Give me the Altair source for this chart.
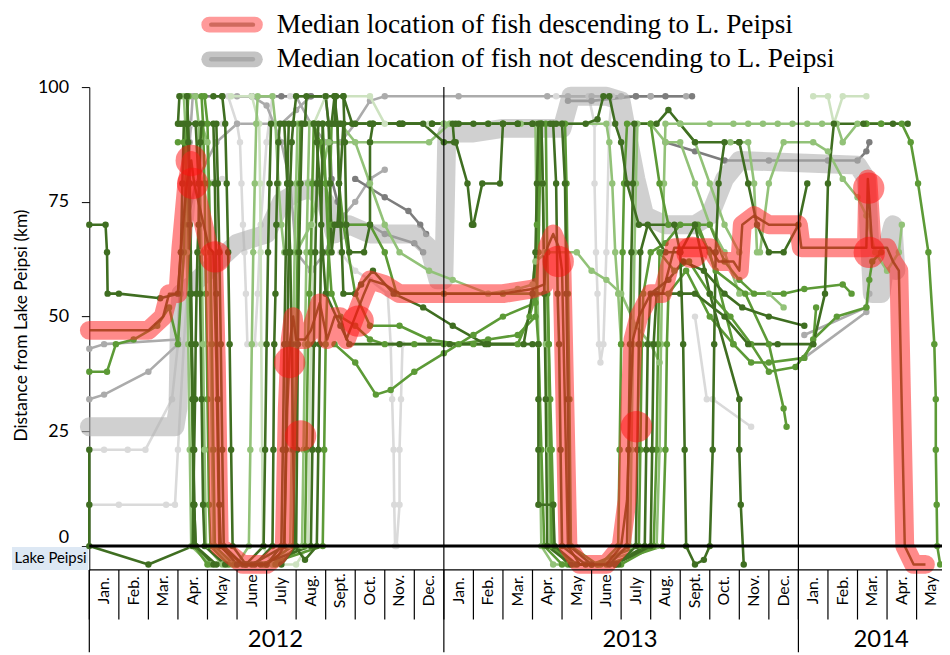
import altair as alt
import pandas as pd

# ---------------- axis / label data ----------------
month_names = ["Jan.", "Feb.", "Mar.", "Apr.", "May", "June", "July", "Aug.",
               "Sept.", "Oct.", "Nov.", "Dec."]
year_names = ["2012", "2013", "2014"]
year_label_pos = [6.3, 18.3, 26.8]      # months since 1 Jan 2012
year_bounds = [12, 24]
x_max = 28.86
y_min, y_max = -5.2, 100
y_ticks = [0, 25, 50, 75, 100]

legend_labels = ["Median location of fish descending to L. Peipsi",
                 "Median location of fish not descending to L. Peipsi"]

# ---------------- medians (month, km) ----------------
red_median = [[0, 47], [2.0, 47], [2.5, 50], [2.7, 55], [3.0, 55], [3.1, 65], [3.3, 79], [3.45, 84],
              [3.55, 79], [3.8, 72], [4.05, 65], [4.2, 64], [4.3, 40], [4.4, 0], [4.8, -2], [5.2, -4],
              [6.0, -4], [6.4, -2], [6.6, 0], [6.7, 30], [6.8, 45], [6.9, 50], [7.0, 45], [7.3, 45],
              [7.5, 47], [7.8, 53], [8.05, 45], [8.3, 50], [8.5, 50], [8.7, 45], [9.0, 50], [9.3, 55],
              [9.5, 58], [10.0, 57], [10.5, 55], [11.5, 55], [12.0, 55], [13.0, 55], [14.0, 55],
              [15.0, 56], [15.4, 57], [15.5, 65], [15.7, 68], [15.9, 65], [16.0, 60], [16.1, 30],
              [16.2, 0], [16.6, -4], [17.5, -4], [18.0, 0], [18.2, 10], [18.3, 30], [18.4, 45],
              [18.6, 50], [19.0, 55], [19.4, 55], [19.6, 60], [19.8, 65], [20.4, 65], [21.0, 65],
              [21.3, 62], [21.8, 62], [22.0, 60], [22.1, 70], [22.5, 72], [23.0, 70], [24.0, 70],
              [24.1, 65], [25.0, 65], [26.3, 65], [26.35, 80], [26.5, 65], [27.0, 65], [27.2, 62],
              [27.4, 60], [27.5, 30], [27.6, 0], [27.9, -4], [28.3, -4]]
red_blob_m = [3.5, 3.45, 4.26, 6.78, 7.15, 9.1, 15.87, 18.52, 20.4, 26.4, 26.38]
red_blob_km = [79, 84, 63, 40, 24, 49, 62, 26, 64, 64, 78]

gray_median = [[0, 26], [2.9, 26], [3.0, 30], [3.05, 50], [3.1, 55], [3.5, 57], [4.0, 60], [4.5, 63],
               [5.0, 66], [5.5, 67], [6.0, 68], [6.5, 75], [7.0, 77], [7.5, 78], [8.0, 75], [8.3, 68],
               [8.8, 70], [9.5, 68], [11.0, 68], [11.5, 65], [11.8, 58], [12.0, 58], [12.1, 90],
               [13.0, 90], [14.0, 91], [16.0, 91], [16.3, 98], [17.5, 98], [18.0, 97], [18.2, 90],
               [18.5, 80], [18.8, 72], [19.5, 70], [20.5, 70], [21.0, 72], [21.5, 80], [22.0, 84],
               [26.0, 83], [26.3, 80], [26.5, 55], [26.8, 55], [27.0, 65], [27.2, 70], [27.3, 60]]

# ---------------- individual fish tracks (month, km) ----------------
g01 = [[0, 21], [0, 9], [0, 0], [2.0, -4], [3.5, 0], [3.52, 9], [3.55, 21], [3.58, 32], [3.6, 44], [3.63, 55],
       [3.66, 64], [3.7, 70], [3.73, 79], [3.76, 88], [3.8, 92], [4.3, 92], [4.35, 79], [4.4, 64], [4.45, 44],
       [4.5, 21], [4.55, 0], [5.2, -4], [6.5, -4], [7.0, 0], [7.03, 21], [7.06, 44], [7.1, 64], [7.15, 79],
       [7.2, 92], [8.5, 92], [9.5, 92], [10.5, 92], [11.3, 92], [12.0, 88], [12.4, 88], [12.8, 79], [12.95, 70],
       [13.0, 70], [13.3, 79], [13.9, 79], [14.0, 92], [14.5, 92], [15.3, 92], [15.35, 79], [15.4, 55],
       [15.45, 32], [15.5, 0], [16.3, -4], [17.6, -4], [18.2, 0], [18.25, 21], [18.3, 44], [18.35, 64],
       [18.4, 79], [18.45, 92], [19.2, 92], [19.6, 95], [20.5, 88], [22.0, 88]]
g02 = [[3.1, 92], [3.3, 92], [3.35, 88], [3.38, 79], [3.4, 70], [3.43, 55], [3.46, 44], [3.5, 32], [3.52, 21],
       [3.55, 9], [3.6, 0], [4.2, -4], [5.6, -4], [6.2, 0], [6.23, 21], [6.26, 44], [6.3, 55], [6.33, 70],
       [6.36, 79], [6.4, 88], [6.45, 92], [6.9, 92], [7.0, 98], [8.0, 98], [8.1, 92], [8.15, 79], [8.2, 64],
       [8.3, 70], [8.4, 70], [8.6, 92], [9.0, 92], [9.6, 92], [10.6, 92], [11.6, 92], [12.4, 92], [13.5, 92],
       [14.5, 92], [15.6, 92], [16.0, 92], [16.1, 79], [16.15, 55], [16.2, 32], [16.25, 0], [17.0, -4],
       [17.8, -4], [19.0, 0], [19.05, 21], [19.1, 44], [19.2, 55], [20.0, 55], [20.5, 55], [21.5, 50],
       [22.3, 44], [23.3, 44], [24.5, 44], [24.9, 55], [25.0, 79], [25.2, 92], [26.2, 92], [27.2, 92], [27.7, 92]]
g03 = [[4.2, 98], [4.5, 98], [4.6, 92], [4.65, 79], [4.7, 64], [4.75, 44], [4.8, 21], [4.85, 0], [5.3, -4],
       [6.0, -4], [6.5, 0], [6.55, 21], [6.6, 44], [6.65, 64], [6.7, 79], [6.75, 92], [7.3, 92], [7.35, 98],
       [8.3, 98], [8.4, 92], [8.45, 79], [8.5, 70], [8.55, 64], [8.6, 55], [9.0, 55], [9.2, 57], [9.6, 60],
       [10.3, 55], [11.3, 52], [12.3, 48], [13.4, 44], [14.7, 44], [15.0, 55], [15.1, 64], [15.15, 79],
       [15.2, 92], [15.7, 92], [15.8, 79], [15.85, 55], [15.9, 44], [15.95, 21], [16.0, 0], [16.8, -4],
       [17.9, -4], [18.5, 0], [18.55, 21], [18.6, 44], [18.65, 64], [18.9, 70], [19.5, 64], [20.0, 64],
       [20.5, 70], [21.0, 55], [22.0, 32], [22.0, 21], [22.05, 9], [22.15, -4]]
g04 = [[0, 70], [0.55, 70], [0.6, 64], [0.62, 55], [1.0, 55], [2.4, 54], [3.0, 55], [3.1, 64], [3.15, 79],
       [3.2, 92], [3.6, 92], [3.7, 79], [3.75, 55], [3.8, 32], [3.85, 9], [3.9, 0], [4.6, -4], [5.8, -4],
       [7.5, 0], [7.55, 21], [7.6, 44], [7.65, 64], [7.7, 79], [7.75, 92], [8.2, 92], [8.3, 98], [8.6, 98],
       [8.65, 88], [8.7, 70], [8.8, 64], [9.3, 64], [9.5, 70], [9.5, 88], [9.6, 92], [10.6, 92], [11.6, 92],
       [12.5, 92], [13.0, 92], [14.0, 92], [15.0, 92], [15.8, 92]]
g05 = [[0, 38], [0.6, 38], [0.9, 44], [1.5, 45], [2.3, 48], [2.7, 52], [3.0, 44], [3.2, 64], [3.25, 79],
       [3.3, 92], [3.35, 98], [3.8, 98], [3.85, 92], [3.9, 79], [3.95, 55], [4.0, 32], [4.05, 9], [4.1, 0],
       [4.7, -4], [5.9, -4], [6.9, 0], [6.95, 21], [7.0, 44], [7.05, 64], [7.1, 79], [7.15, 92], [7.6, 92],
       [7.8, 88], [8.0, 79], [8.2, 70], [8.6, 70], [9.0, 55], [9.5, 48], [10.5, 48], [11.5, 45], [12.5, 44],
       [13.5, 45], [14.5, 46], [15.1, 50], [15.2, 64], [15.25, 79], [15.3, 92], [15.45, 92], [15.5, 64],
       [15.55, 44], [15.6, 21], [15.65, 0], [16.4, -4], [17.3, -4], [17.9, 0], [17.95, 21], [18.0, 44],
       [18.05, 64], [18.1, 79], [18.2, 92], [19.0, 92], [19.3, 79], [19.6, 70], [20.6, 70], [21.2, 60],
       [22.2, 55], [23.0, 44], [23.5, 30], [23.6, 26]]
g06 = [[3.9, 98], [4.0, 92], [4.05, 79], [4.1, 64], [4.15, 44], [4.2, 21], [4.25, 0], [4.9, -4], [6.3, -4],
       [7.3, 0], [7.35, 21], [7.4, 44], [7.45, 55], [7.5, 64], [7.55, 79], [7.6, 92], [7.9, 92], [8.0, 79],
       [8.1, 64], [8.2, 55], [8.5, 50], [9.0, 48], [9.5, 45], [10.0, 44], [11.0, 44], [12.0, 44], [13.0, 44],
       [14.5, 44], [14.9, 50], [15.1, 55], [15.15, 70], [15.2, 79], [15.25, 92], [16.1, 92], [16.15, 79],
       [16.2, 55], [16.25, 32], [16.3, 0], [17.2, -4], [18.0, -4], [19.1, 0], [19.2, 21], [19.25, 44],
       [19.3, 64], [19.8, 60], [20.3, 62], [21.0, 55], [21.7, 50], [22.4, 44], [23.0, 38], [23.9, 39],
       [24.5, 44], [24.6, 52]]
g07 = [[3.0, 88], [3.2, 88], [3.3, 79], [3.35, 70], [3.4, 55], [3.45, 44], [3.5, 21], [3.55, 0], [4.0, -4],
       [6.0, -4], [7.9, 0], [7.95, 21], [8.0, 44], [8.05, 55], [8.1, 64], [8.15, 79], [8.2, 92], [8.4, 92],
       [8.45, 79], [8.6, 70], [9.5, 70], [10.0, 64], [10.4, 55], [12.0, 55], [14.0, 55], [15.5, 55],
       [15.55, 44], [15.6, 32], [15.65, 21], [15.7, 9], [15.72, 0], [16.2, -4], [17.0, -4], [18.6, 0],
       [18.65, 21], [18.7, 44], [18.75, 55], [19.0, 64], [19.5, 66], [20.0, 70], [21.0, 70], [21.5, 62],
       [22.0, 58], [22.5, 55], [23.5, 55], [24.2, 56], [25.5, 57], [25.8, 55]]
g08 = [[26.3, 92], [26.8, 92], [27.5, 92], [27.8, 88], [28.05, 79], [28.4, 64], [28.6, 44], [28.65, 32],
       [28.65, 21], [28.68, 9], [28.7, 0], [28.8, -4]]
g09 = [[3.1, 98], [3.2, 98], [3.25, 92], [3.3, 79], [3.3, 64], [3.35, 44], [3.4, 21], [3.45, 0], [4.1, -4],
       [5.0, -4], [5.4, 0], [5.45, 21], [5.5, 44], [5.55, 64], [5.6, 79], [5.65, 92], [5.7, 98], [6.2, 98],
       [6.3, 92], [6.4, 79], [6.5, 70], [6.6, 64], [7.0, 64], [7.5, 70], [8.1, 88], [9.5, 88], [11.5, 88],
       [12.2, 92], [14.0, 92], [16.0, 92], [17.5, 92], [17.6, 88], [17.7, 79], [17.8, 64], [17.9, 55], [18.0, 44]]
g10 = [[3.4, 98], [3.6, 98], [3.7, 92], [3.75, 79], [3.8, 64], [3.85, 44], [3.9, 21], [3.95, 0], [4.5, -4],
       [6.2, -4], [6.8, 0], [6.85, 21], [6.9, 44], [6.95, 64], [7.0, 79], [7.05, 92], [8.5, 92], [9.0, 88],
       [9.5, 79], [10.0, 70], [10.5, 64], [11.5, 60], [12.3, 58], [13.5, 55], [14.5, 56], [15.0, 57],
       [15.1, 62], [15.5, 64], [16.5, 64], [17.0, 60], [17.5, 58], [18.0, 55], [18.5, 48], [19.0, 44], [19.3, 40]]
g11 = [[20.0, 92], [21.0, 92], [21.8, 92], [22.3, 92], [22.8, 92], [23.3, 92], [23.8, 92], [24.3, 92],
       [24.8, 92], [25.3, 92], [25.5, 88], [26.0, 92], [26.3, 92], [26.8, 92]]
g12 = [[21.7, 88], [22.0, 88], [22.3, 88], [22.5, 79], [22.6, 64], [22.7, 64], [23.0, 79], [23.5, 88],
       [24.5, 88], [25.0, 86], [25.5, 80], [26.0, 76], [26.3, 72], [26.6, 64], [27.0, 60], [27.4, 64], [27.5, 70]]
g13 = [[24.5, 98], [25.0, 98], [25.2, 92], [25.5, 98], [26.3, 98]]
g14 = [[4.8, 98], [5.5, 98], [5.75, 92], [5.78, 79], [5.8, 64], [5.82, 44], [5.85, 21], [5.88, 0], [6.2, -4],
       [7.0, -4], [7.4, 0], [7.45, 21], [7.5, 44], [7.55, 70], [7.6, 92], [8.0, 98], [9.5, 98], [10.0, 92],
       [11.5, 92], [12.2, 92]]
g15 = [[12.0, 92], [13.5, 92], [15.3, 92], [15.35, 79], [15.4, 64], [15.45, 44], [15.5, 32], [15.55, 21],
       [15.6, 0], [16.3, -4], [17.2, -4], [18.3, 0], [18.35, 21], [18.4, 44], [18.45, 64], [18.5, 79],
       [18.55, 92], [19.0, 92], [19.5, 88], [20.0, 88], [20.5, 79], [21.0, 70], [21.5, 64], [22.0, 55],
       [23.0, 55], [23.5, 52]]
g16 = [[15.0, 92], [16.8, 92], [17.2, 93], [17.4, 98], [17.6, 98], [17.8, 92], [18.0, 88], [18.2, 79],
       [18.6, 70], [19.8, 70], [20.0, 64], [20.1, 44], [20.15, 21], [20.2, 0], [20.5, -4], [20.8, -3],
       [21.0, 0], [21.1, 21], [21.15, 44], [21.2, 64], [21.3, 79], [21.5, 88], [22.0, 88], [22.3, 79],
       [22.6, 70], [23.0, 64], [23.5, 64], [24.0, 70], [24.3, 79]]
g17 = [[8.3, 44], [9.0, 40], [9.7, 33], [10.2, 34], [11.0, 38], [12.0, 42], [13.0, 46], [14.0, 50],
       [15.1, 53], [15.2, 44], [15.3, 21], [15.4, 0], [16.0, -4], [17.5, -4], [19.4, 0], [19.5, 21],
       [19.55, 44], [19.6, 55], [20.2, 60], [21.0, 50], [21.8, 44]]
g18 = [[20.5, 70], [21.0, 64], [21.8, 44], [22.4, 40], [23.0, 40], [24.2, 41], [24.5, 45], [25.3, 50],
       [26.3, 52], [26.4, 58], [26.5, 62], [26.8, 64]]
g19 = [[3.0, 92], [3.05, 98], [3.3, 98], [3.35, 92], [3.4, 79], [3.45, 55], [3.5, 32], [3.55, 9], [3.6, 0],
       [4.3, -4], [5.3, -4], [5.9, 0], [5.95, 21], [6.0, 44], [6.05, 64], [6.1, 79], [6.15, 92], [6.6, 92],
       [6.7, 79], [6.8, 64], [6.85, 44], [6.9, 21], [6.95, 0], [7.3, -3], [7.7, 0], [7.75, 21], [7.8, 44],
       [7.85, 70], [7.9, 92], [8.3, 92], [8.35, 98], [8.6, 98], [8.9, 92], [10.5, 92], [12.3, 92], [12.35, 88]]
g20 = [[3.6, 92], [4.2, 92], [4.25, 79], [4.3, 55], [4.35, 32], [4.4, 9], [4.45, 0], [5.0, -4], [5.5, -4],
       [6.6, 0], [6.65, 21], [6.7, 44], [6.75, 64], [6.8, 79], [6.85, 88], [6.9, 92], [7.6, 92], [7.7, 88],
       [7.8, 79], [7.9, 64], [8.0, 55], [8.5, 48], [8.8, 44], [10.5, 44], [12.2, 44], [13.5, 44], [15.0, 44],
       [15.2, 44], [15.2, 32], [15.2, 21], [15.2, 9], [15.7, 9], [15.75, 0], [16.5, -4], [17.8, -4],
       [18.8, 0], [18.85, 21], [18.9, 44], [19.0, 55], [19.6, 58], [20.1, 62], [20.8, 60], [21.5, 55],
       [22.1, 52], [23.0, 50], [24.2, 48]]
g21 = [[3.2, 92], [3.8, 92], [4.0, 88], [4.05, 64], [4.1, 44], [4.15, 21], [4.2, 0], [4.8, -4], [6.0, -4],
       [7.2, 0], [7.25, 21], [7.3, 44], [7.35, 64], [7.4, 79], [7.45, 92], [9.5, 92], [12.0, 92], [14.6, 92],
       [15.1, 92], [15.15, 64], [15.2, 44], [15.25, 21], [15.3, 0], [15.7, -4], [17.0, -4], [19.2, 0],
       [19.3, 21], [19.35, 44], [19.4, 64], [19.45, 79], [19.5, 92], [20.0, 92], [20.5, 88], [21.0, 79],
       [21.5, 70], [22.0, 64]]

gr01 = [[3.6, 98], [4.5, 98], [5.5, 98], [6.5, 98], [7.5, 98], [8.0, 98], [8.1, 92], [8.15, 88], [8.2, 80],
        [8.4, 75], [8.5, 70], [9.5, 70], [10.0, 68], [11.0, 66], [11.3, 64]]
gr02 = [[0, 32], [0.5, 33], [2.0, 38], [3.0, 44], [3.05, 55], [3.1, 64], [3.2, 70], [3.3, 79], [3.4, 88],
        [3.5, 98], [5.0, 98], [7.0, 98], [7.5, 92], [8.0, 88], [8.5, 88], [9.0, 92], [9.5, 97], [10.0, 98],
        [12.5, 98], [15.5, 98], [18.5, 98], [19.0, 98]]
gr03 = [[0, 21], [0.5, 21], [1.3, 21], [1.9, 21], [2.8, 32], [3.0, 44], [3.1, 55], [3.2, 70], [3.3, 88],
        [3.5, 92], [4.5, 92]]
gr04 = [[0, 9], [1.0, 9], [2.6, 9], [2.9, 9], [3.0, 21], [3.2, 44], [3.4, 64], [3.6, 79], [4.5, 80]]
gr05 = [[8.5, 64], [9.0, 60], [9.5, 58], [10.1, 55], [10.2, 44], [10.25, 32], [10.3, 21], [10.32, 9],
        [10.35, 0], [10.4, 0], [10.5, 9], [10.5, 21], [10.55, 32], [10.6, 44]]
gr06 = [[0, 43], [0.5, 44], [3.0, 45], [3.1, 55], [3.3, 70], [3.6, 79], [4.3, 88], [5.0, 92], [6.5, 92],
        [7.0, 95], [7.5, 98], [8.0, 98]]
gr07 = [[16.2, 98], [17.0, 98], [18.0, 98], [19.0, 98], [20.2, 98]]
gr08 = [[16.2, 97], [17.0, 97], [18.5, 98], [19.5, 98], [20.4, 98]]
gr09 = [[19.5, 88], [20.5, 86], [21.5, 84], [23.0, 84], [25.0, 84], [26.0, 84], [26.3, 86], [26.4, 88]]
gr10 = [[20.5, 50], [20.9, 32], [21.1, 32], [22.4, 26]]
gr11 = [[24.2, 46], [26.3, 52], [26.4, 55]]
gr12 = [[24.2, 41], [26.3, 51]]
gr13 = [[15.8, 98], [16.9, 98], [17.1, 92], [17.1, 79], [17.15, 64], [17.2, 55], [17.25, 44], [17.3, 40],
        [17.4, 44], [17.5, 64], [17.6, 92], [17.7, 98]]
gr14 = [[4.5, 98], [4.7, 98], [5.0, 92], [5.1, 88], [5.15, 79], [5.2, 70], [5.25, 64], [5.3, 55], [5.35, 44],
        [5.6, 44], [5.7, 55], [5.8, 70], [6.0, 88], [6.2, 98], [6.8, 98]]
gr15 = [[5.5, 98], [6.0, 96], [6.5, 88], [6.8, 79], [7.0, 64], [7.5, 60], [8.0, 64], [8.3, 70], [8.6, 72],
        [9.0, 75], [9.5, 80], [10.0, 82]]
gr16 = [[9.0, 80], [10.0, 76], [10.8, 73], [11.2, 70], [11.4, 68]]

track_groups = [
    ("gr03", "LGR", gr03), ("gr04", "LGR", gr04), ("gr05", "LGR", gr05), ("gr13", "LGR", gr13),
    ("gr14", "LGR", gr14), ("gr10", "LGR", gr10),
    ("gr02", "MGR", gr02), ("gr06", "MGR", gr06), ("gr07", "MGR", gr07), ("gr11", "MGR", gr11),
    ("gr12", "MGR", gr12), ("gr15", "MGR", gr15),
    ("gr01", "DGR", gr01), ("gr08", "DGR", gr08), ("gr09", "DGR", gr09), ("gr16", "DGR", gr16),
    ("g13", "VLG", g13), ("g14", "VLG", g14),
    ("g09", "LG", g09), ("g10", "LG", g10), ("g11", "LG", g11), ("g12", "LG", g12), ("g15", "LG", g15),
    ("g21", "LG", g21),
    ("g05", "MG", g05), ("g06", "MG", g06), ("g07", "MG", g07), ("g08", "MG", g08), ("g17", "MG", g17),
    ("g18", "MG", g18),
    ("g01", "DG", g01), ("g02", "DG", g02), ("g03", "DG", g03), ("g04", "DG", g04), ("g16", "DG", g16),
    ("g19", "DG", g19), ("g20", "DG", g20),
]
grp_domain = ["LGR", "MGR", "DGR", "VLG", "LG", "MG", "DG"]
grp_colors = ["#dadada", "#ababab", "#7d7d7d", "#cde2c0", "#92c278", "#5c9a36", "#3f6e21"]

# ---------------- build tables ----------------
rows = []
for name, grp, pts in track_groups:
    for i, (m, km) in enumerate(pts):
        rows.append({"track": name, "grp": grp, "m": m, "km": km, "i": i})
tracks_df = pd.DataFrame(rows)
gray_df = tracks_df[tracks_df.grp.isin(["LGR", "MGR", "DGR"])]
green_df = tracks_df[~tracks_df.grp.isin(["LGR", "MGR", "DGR"])]

red_df = pd.DataFrame([{"m": m, "km": k, "i": i} for i, (m, k) in enumerate(red_median)])
graymed_df = pd.DataFrame([{"m": m, "km": k, "i": i} for i, (m, k) in enumerate(gray_median)])
blob_df = pd.DataFrame({"m": red_blob_m, "km": red_blob_km})

xs = alt.Scale(domain=[0, x_max], nice=False, zero=False)
ys = alt.Scale(domain=[y_min, y_max], nice=False, zero=False)
yax = alt.Axis(
    values=y_ticks, title="Distance from Lake Peipsi (km)", grid=False,
    domainColor="black", tickColor="black", tickSize=8, labelPadding=13,
    labelFontSize=18, labelFont="Lato", labelColor="black",
    labelBaseline={"condition": {"test": "datum.value === 0", "value": "bottom"}, "value": "middle"},
    titleFont="Lato", titleFontSize=17.5, titleFontWeight="normal", titleColor="black",
    titleX=-68, titleY=240, titleBaseline="middle", titleAlign="center", titleAngle=270)
X = alt.X("m:Q", scale=xs, axis=None)
Y = alt.Y("km:Q", scale=ys, axis=yax)
color = alt.Color("grp:N", scale=alt.Scale(domain=grp_domain, range=grp_colors), legend=None)

def track_layers(df):
    base = alt.Chart(df)
    lines = base.mark_line(strokeWidth=2.6, strokeJoin="round").encode(
        x=X, y=Y, color=color, detail="track:N", order="i:Q")
    pts = base.mark_circle(size=42, opacity=1).encode(x=X, y=Y, color=color)
    return [lines, pts]

gray_layers = track_layers(gray_df)
green_layers = track_layers(green_df)

gray_med = alt.Chart(graymed_df).mark_line(
    strokeWidth=19, color="#b0b0b0", opacity=0.6, strokeCap="round", strokeJoin="round"
).encode(x=X, y=Y, order="i:Q")

red_thick = alt.Chart(red_df).mark_line(
    strokeWidth=19, color="#ff2a2a", opacity=0.55, strokeCap="round", strokeJoin="round"
).encode(x=X, y=Y, order="i:Q")
red_thin = alt.Chart(red_df).mark_line(
    strokeWidth=2.5, color="#a8401c", opacity=0.9, strokeJoin="round"
).encode(x=X, y=Y, order="i:Q")
blobs = alt.Chart(blob_df).mark_circle(size=1000, color="#ff0d0d", opacity=0.5).encode(x=X, y=Y)

# zero line and plot-bottom line
hl_df = pd.DataFrame({"km": [0, y_min], "w": [3, 1.2], "m0": [0, 0], "m1": [x_max, x_max]})
hlines = alt.Chart(hl_df).mark_rule(color="black").encode(
    y=Y, x=alt.X("m0:Q", scale=xs, axis=None), x2="m1:Q",
    strokeWidth=alt.StrokeWidth("w:Q", scale=None))

# year separator lines (run from top of plot down through the date table)
yr_df = pd.DataFrame({"m": [0] + year_bounds, "km": [y_min, y_max, y_max]})
year_lines = alt.Chart(yr_df).mark_rule(color="black", strokeWidth=1.2).encode(
    x=X, y=Y, y2=alt.value(570))

# month ticks and labels
mt_df = pd.DataFrame({"m": list(range(0, 29)), "km": [y_min] * 29})
month_ticks = alt.Chart(mt_df).mark_rule(color="black", strokeWidth=1.2).encode(
    x=X, y=Y, y2=alt.value(537))
ml_df = pd.DataFrame({"m": [i + 0.5 for i in range(29)],
                      "lab": [month_names[i % 12] for i in range(29)]})
month_labels = alt.Chart(ml_df).mark_text(
    angle=270, align="center", baseline="middle", fontSize=16, font="Lato", color="black"
).encode(x=X, y=alt.value(508), text="lab:N")
yl_df = pd.DataFrame({"m": year_label_pos, "lab": year_names})
year_labels = alt.Chart(yl_df).mark_text(
    align="center", baseline="middle", fontSize=24, font="Lato", color="black"
).encode(x=X, y=alt.value(558), text="lab:N")

# "Lake Peipsi" box under the zero line
lp_df = pd.DataFrame({"km": [-0.2], "b": [y_min], "lab": ["Lake Peipsi"]})
lp_box = alt.Chart(lp_df).mark_rect(color="#dde8f4").encode(
    y=Y, y2="b:Q", x=alt.value(-78), x2=alt.value(-1))
lp_text = alt.Chart(lp_df).mark_text(
    align="center", baseline="middle", fontSize=15, font="Lato", color="black", dy=11
).encode(y=Y, x=alt.value(-39), text="lab:N")

# legend (top)
def legend_row(label, ypix, outer, inner):
    d = pd.DataFrame({"lab": [label]})
    o = alt.Chart(d).mark_rule(strokeWidth=16, strokeCap="round", color=outer).encode(
        x=alt.value(121), x2=alt.value(167), y=alt.value(ypix))
    i = alt.Chart(d).mark_rule(strokeWidth=4.5, strokeCap="round", color=inner).encode(
        x=alt.value(123), x2=alt.value(165), y=alt.value(ypix))
    t = alt.Chart(d).mark_text(align="left", baseline="middle", fontSize=27.5,
                               font="Liberation Serif", color="black").encode(
        x=alt.value(189), y=alt.value(ypix), text="lab:N")
    return [o, i, t]

legend_layers = (legend_row(legend_labels[0], -63, "#ff9a9a", "#cf6a5e")
                 + legend_row(legend_labels[1], -28, "#c4c4c4", "#a9a9a9"))

chart = alt.layer(
    lp_box, lp_text,
    *gray_layers, gray_med, *green_layers,
    red_thick, red_thin, blobs,
    hlines, year_lines, month_ticks, month_labels, year_labels,
    *legend_layers,
).properties(
    width=860, height=487,
    autosize=alt.AutoSizeParams(type="none"),
    padding={"left": 82, "top": 77, "right": 0, "bottom": 83},
).configure_view(stroke=None)

chart.save("out.html", embed_options={"renderer": "svg", "actions": False})
